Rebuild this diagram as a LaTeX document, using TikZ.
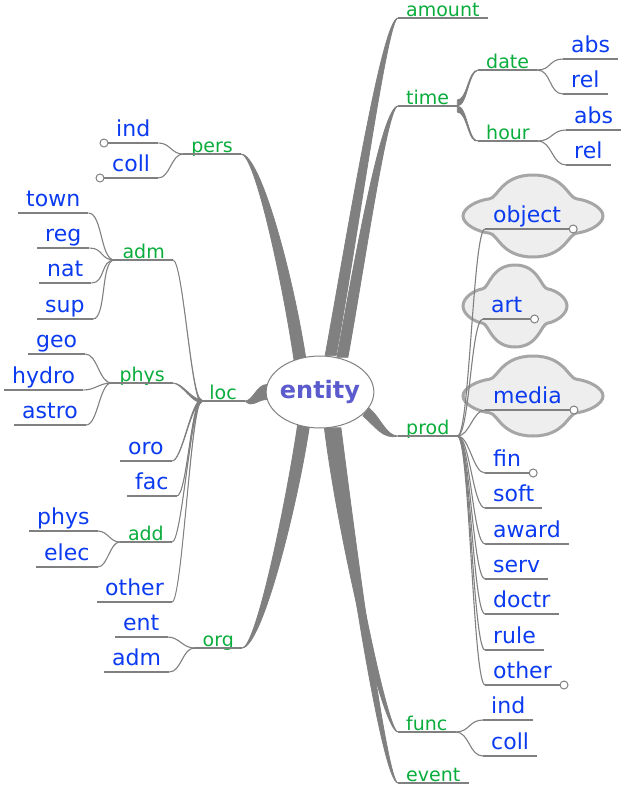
\documentclass[tikz,border=0pt]{standalone}
\usepackage{fontspec}
\setmainfont{DejaVu Sans}
\usetikzlibrary{shapes.geometric,calc,backgrounds}
\definecolor{edgegray}{HTML}{808080}
\definecolor{branchgreen}{HTML}{0AAD3C}
\definecolor{leafblue}{HTML}{0B3BF0}
\definecolor{rootblue}{HTML}{5B5BCD}
\definecolor{cloudfill}{HTML}{EEEEEE}
\definecolor{cloudline}{HTML}{A6A6A6}

% tapered edge: parent port, width vector, first control (from port), second control (from child), child port
\newcommand{\taper}[5]{\filldraw[wedge] (#1) .. controls +(#3) and +(#4) .. (#5)
  .. controls ($(#5)+(#4)+0.5*(#2)$) and ($(#1)+(#2)+(#3)$) .. ($(#1)+(#2)$) -- cycle;}
% thin edge with horizontal tangents
\newcommand{\twig}[3]{\draw[twigline] (#2) .. controls +(#1,0) and +({-(#1)},0) .. (#3);}
% cloud around a node: centre, half width, half height
\newcommand{\puff}[3]{%
  \begin{scope}[shift={(#1)}, xscale=#2, yscale=#3]
    \path[cloudbox] (-1,0) .. controls (-1,-0.2) and (-0.8,-0.38) .. (-0.62,-0.42)
      .. controls (-0.5,-0.45) and (-0.45,-1) .. (0,-1) .. controls (0.45,-1) and (0.5,-0.45) .. (0.62,-0.42)
      .. controls (0.8,-0.38) and (1,-0.2) .. (1,0) .. controls (1,0.2) and (0.8,0.38) .. (0.62,0.42)
      .. controls (0.5,0.45) and (0.45,1) .. (0,1) .. controls (-0.45,1) and (-0.5,0.45) .. (-0.62,0.42)
      .. controls (-0.8,0.38) and (-1,0.2) .. (-1,0) -- cycle;
  \end{scope}}

\tikzset{
  rootnode/.style={ellipse, draw=edgegray, fill=white, line width=1pt, minimum width=106pt,
    minimum height=72pt, inner xsep=-2pt, inner ysep=0pt, text=rootblue,
    font=\bfseries\fontsize{24}{28}\selectfont},
  mmbranch/.style={inner xsep=8pt, inner ysep=0.5pt, text depth=1pt, text=branchgreen,
    font=\fontsize{19}{22}\selectfont},
  mmleaf/.style={inner xsep=8pt, inner ysep=0.5pt, text depth=5.5pt, text=leafblue,
    font=\fontsize{22}{26}\selectfont},
  underline/.style={draw=edgegray, line width=1.1pt},
  twigline/.style={draw=edgegray, line width=1.1pt},
  wedge/.style={fill=edgegray, draw=edgegray, line width=0.8pt, line join=round},
  cloudbox/.style={fill=cloudfill, draw=cloudline, line width=3pt},
  foldmark/.style={circle, draw=edgegray, fill=white, line width=1pt, minimum size=8pt, inner sep=0pt}
}

\begin{document}
\begin{tikzpicture}[x=1pt, y=-1pt]
  \useasboundingbox (0,0) rectangle (624,787);

  \node[rootnode] (root) at (320,392) {entity};

  % right side
  \node[mmbranch, anchor=south west] (amount) at (398,18) {amount};
  \node[mmbranch, anchor=south west] (time) at (398,106) {time};
  \node[mmbranch, anchor=south west] (date) at (478,70) {date};
  \node[mmbranch, anchor=south west] (hour) at (478,141) {hour};
  \node[mmleaf, anchor=south west] (dateabs) at (563,59) {abs};
  \node[mmleaf, anchor=south west] (daterel) at (563,94) {rel};
  \node[mmleaf, anchor=south west] (hourabs) at (566,130) {abs};
  \node[mmleaf, anchor=south west] (hourrel) at (566,165) {rel};
  \node[mmbranch, anchor=south west] (prod) at (398,436) {prod};
  \node[mmleaf, anchor=south west] (object) at (485,229) {object};
  \node[mmleaf, anchor=south west] (art) at (483,319) {art};
  \node[mmleaf, anchor=south west] (media) at (485,410) {media};
  \foreach \n/\t/\y in {fin/fin/473, soft/soft/508, award/award/544, serv/serv/579,
                        doctr/doctr/614, rule/rule/650, prodother/other/685}
    {\node[mmleaf, anchor=south west] (\n) at (485,\y) {\t};}
  \node[mmbranch, anchor=south west] (func) at (398,732) {func};
  \node[mmleaf, anchor=south west] (funcind) at (483,720) {ind};
  \node[mmleaf, anchor=south west] (funccoll) at (483,756) {coll};
  \node[mmbranch, anchor=south west] (event) at (398,783) {event};

  % left side
  \node[mmbranch, anchor=south east] (pers) at (241,154) {pers};
  \node[mmleaf, anchor=south west] (persind) at (108,143) {ind};
  \node[mmleaf, anchor=south west] (perscoll) at (104,178) {coll};
  \node[mmbranch, anchor=south east] (loc) at (245,401) {loc};
  \node[mmbranch, anchor=south east] (adm) at (173,260) {adm};
  \node[mmleaf, anchor=south west] (town) at (18,213) {town};
  \node[mmleaf, anchor=south west] (reg) at (37,248) {reg};
  \node[mmleaf, anchor=south west] (nat) at (39,283) {nat};
  \node[mmleaf, anchor=south west] (sup) at (37,319) {sup};
  \node[mmbranch, anchor=south east] (phys) at (173,383) {phys};
  \node[mmleaf, anchor=south west] (geo) at (28,354) {geo};
  \node[mmleaf, anchor=south west] (hydro) at (4,390) {hydro};
  \node[mmleaf, anchor=south west] (astro) at (14,425) {astro};
  \node[mmleaf, anchor=south west] (oro) at (120,461) {oro};
  \node[mmleaf, anchor=south west] (fac) at (127,496) {fac};
  \node[mmbranch, anchor=south east] (add) at (172,542) {add};
  \node[mmleaf, anchor=south west] (addphys) at (29,531) {phys};
  \node[mmleaf, anchor=south west] (addelec) at (36,567) {elec};
  \node[mmleaf, anchor=south west] (locother) at (97,602) {other};
  \node[mmbranch, anchor=south east] (org) at (242,648) {org};
  \node[mmleaf, anchor=south west] (ent) at (115,637) {ent};
  \node[mmleaf, anchor=south west] (orgadm) at (104,672) {adm};

  % underlines
  \foreach \n in {amount,time,date,hour,dateabs,daterel,hourabs,hourrel,prod,object,art,media,
                  fin,soft,award,serv,doctr,rule,prodother,func,funcind,funccoll,event,
                  pers,persind,perscoll,loc,adm,town,reg,nat,sup,phys,geo,hydro,astro,
                  oro,fac,add,addphys,addelec,locother,org,ent,orgadm}
    {\draw[underline] (\n.south west) -- (\n.south east);}

  % folded marks
  \foreach \n in {object,art,media,fin,prodother}
    {\node[foldmark] at ($(\n.south east)+(4,0)$) {};}
  \foreach \n in {persind,perscoll}
    {\node[foldmark] at ($(\n.south west)+(-4,0)$) {};}

  \coordinate (dateport) at ($(time.south east)+(0,-6)$);
  \coordinate (locport) at ($(loc.south west)+(0,-1.5)$);

  \begin{pgfonlayer}{background}
    % clouds
    \puff{533,216}{70}{41}
    \puff{515,306}{52}{41}
    \puff{533,396}{70}{40}
    % edges from the root
    \taper{root.82}{11,0}{22,-120}{-16,0}{amount.south west}
    \taper{root.64}{11,0}{18,-100}{-16,0}{time.south west}
    \taper{root.129}{12,0}{-12,-80}{14,0}{pers.south east}
    \taper{root.172}{0,15}{-10,0}{8,0}{loc.south east}
    \taper{root.342}{-6,8}{12,10}{-12,0}{prod.south west}
    \taper{root.236}{12,0}{-12,80}{14,0}{org.south east}
    \taper{root.277}{10,0}{12,100}{-16,0}{func.south west}
    \taper{root.287}{10,0}{14,110}{-16,0}{event.south west}
    % time and loc
    \taper{dateport}{0,6}{10,0}{-10,0}{date.south west}
    \taper{time.south east}{0,6}{10,0}{-10,0}{hour.south west}
    \foreach \n in {adm,phys,oro,fac,add,locother}
      {\taper{locport}{0,3}{-10,0}{10,0}{\n.south east}}
    % leaves
    \foreach \n in {dateabs,daterel} {\twig{14}{date.south east}{\n.south west}}
    \foreach \n in {hourabs,hourrel} {\twig{14}{hour.south east}{\n.south west}}
    \foreach \n in {object,art,media,fin,soft,award,serv,doctr,rule,prodother}
      {\twig{12}{prod.south east}{\n.south west}}
    \foreach \n in {funcind,funccoll} {\twig{14}{func.south east}{\n.south west}}
    \foreach \n in {persind,perscoll} {\twig{-12}{pers.south west}{\n.south east}}
    \foreach \n in {town,reg,nat,sup} {\twig{-14}{adm.south west}{\n.south east}}
    \foreach \n in {geo,hydro,astro} {\twig{-12}{phys.south west}{\n.south east}}
    \foreach \n in {addphys,addelec} {\twig{-10}{add.south west}{\n.south east}}
    \foreach \n in {ent,orgadm} {\twig{-12}{org.south west}{\n.south east}}
  \end{pgfonlayer}
\end{tikzpicture}
\end{document}
